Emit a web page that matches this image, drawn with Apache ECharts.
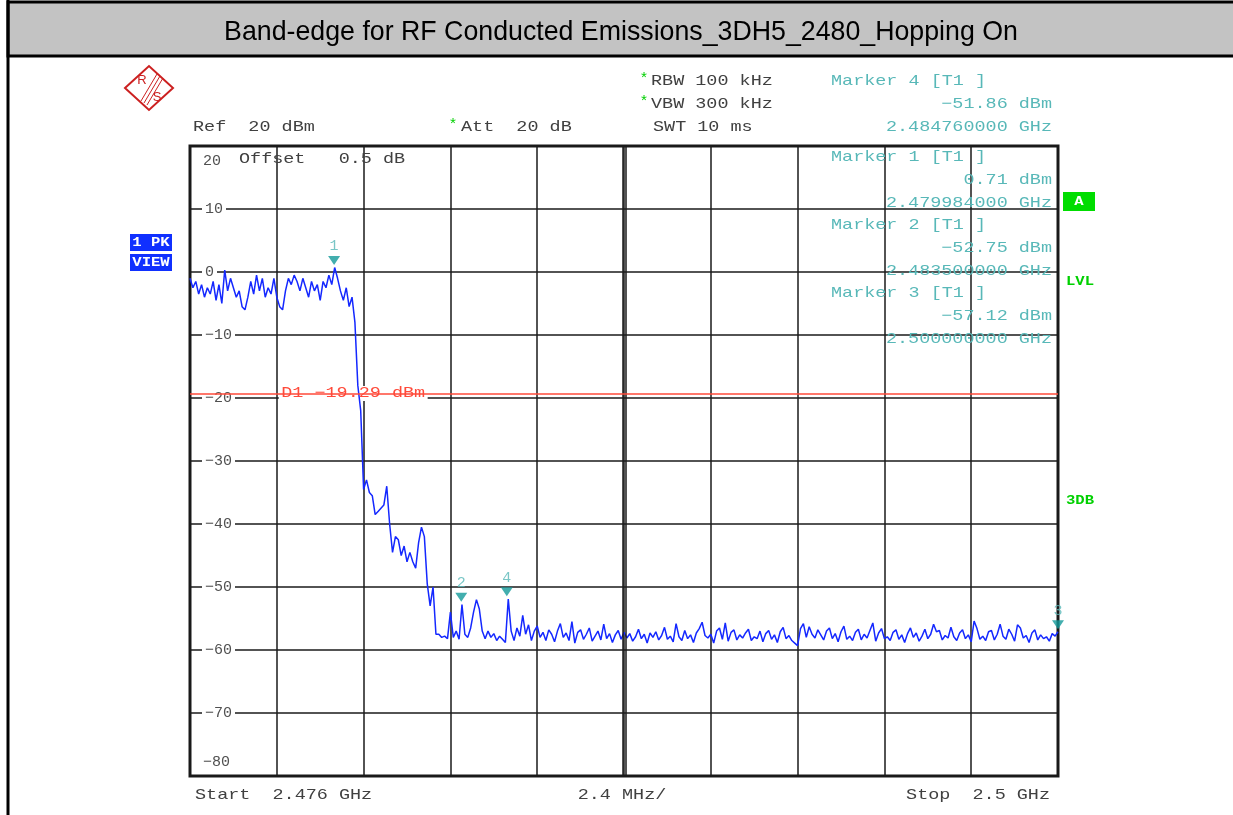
<!DOCTYPE html>
<html>
<head>
<meta charset="utf-8">
<title>Band-edge 3DH5 2480 Hopping On</title>
<script src="https://cdn.jsdelivr.net/npm/echarts@6/dist/echarts.min.js"></script>
<style>
  html, body { margin: 0; padding: 0; background: #fff; }
  #chart { width: 1233px; height: 815px; }
</style>
</head>
<body>
<div id="chart"></div>
<script>
// sweep settings
const startGHz = 2.476;
const stepMHz = 0.08;
const spanMHz = 24;
const divMHz = 2.4;
const centerMHz = 12;
const levelMin = -80;
const levelMax = 20;
const levelStep = 10;
const displayLineDbm = -19.29;

// trace, one level every 0.08 MHz from 2.476 GHz to 2.5 GHz
const traceDbm = [
  -1, -2.5, -1.5, -3.5, -2, -4, -2.5, -3.5, -1.5, -4.5,
  -2, -5, 0.3, -3, -1, -2.5, -4, -3, -5.5, -6,
  -4, -1.5, -3.5, -0.5, -3, -1, -4, -2.5, -3.5, -1,
  -4, -5.5, -6, -3, -1, -2, -0.5, -1.5, -3, -1,
  -2.5, -4, -1.5, -3, -2, -4.5, -1.5, -2.5, -0.5, -2,
  0.71, -1, -3, -4.5, -2.5, -5.5, -4, -8, -18, -22,
  -34.5, -33, -35, -35.5, -38.5, -38, -37.5, -37, -34, -40,
  -44.5, -42, -42.5, -45, -43.5, -46, -44.5, -46, -47, -43,
  -40.5, -42, -49.5, -53, -50, -57.5, -57.5, -58, -57.8, -58.2,
  -54, -58, -57, -58.3, -52.8, -57.5, -58, -56.5, -54, -52,
  -53.5, -57, -58.2, -57, -58, -57.4, -58.5, -57.8, -58.3, -58.8,
  -51.9, -57, -58.5, -56.5, -57.8, -54.5, -57.5, -56, -58.5, -57,
  -56.2, -58, -57.2, -58.5, -56.8, -57.5, -58.7, -57, -55.8, -58,
  -57.3, -58.5, -55.5, -58.9, -57.2, -56.8, -58.3, -57.5, -56.5, -58.6,
  -57.8, -57, -58.4, -55.9, -58.2, -57.4, -58.8, -57.6, -56.9, -58.3,
  -57.2, -58.1, -57.4, -58.6, -57.9, -56.7, -58.2, -57.5, -58.9, -57.3,
  -58, -57.1, -58.4, -57.7, -56.4, -58.3, -57.8, -58.7, -55.8, -57.9,
  -58.5, -56.9, -58.2, -57.6, -58.8, -57.3, -56.6, -55.6, -57.7, -58.1,
  -57.5, -58.9, -57, -56.5, -58.3, -55.7, -58.6, -57.2, -56.8, -58.4,
  -57.6, -58.1, -57.3, -56.7, -58.5, -57.9, -58.2, -57, -58.7, -57.4,
  -56.9, -58.3, -57.6, -58.8, -57.1, -56.4, -58.2, -57.7, -58.5, -58.9,
  -59.3, -56.6, -55.8, -58, -56.3, -57.5, -58.1, -56.8, -57.6, -58.4,
  -57, -56.5, -58.2, -57.4, -58.7, -57.1, -56.2, -58.3, -57.8, -58.5,
  -57.2, -56.7, -58.4, -57.5, -58.1, -56.9, -55.7, -58.6, -57.3, -56.6,
  -58.2, -57.9, -58.5, -57.2, -56.8, -58.3, -57.6, -58.8, -57.4, -56.5,
  -58, -57.3, -58.6, -57.8, -56.7, -58.2, -57.5, -55.9, -57.1, -56.9,
  -58.4, -57.7, -58.1, -56.4, -57.9, -58.5, -57.3, -56.8, -58.2, -57.6,
  -58.7, -55.4, -56.6, -58.3, -57.8, -58.5, -57.1, -56.9, -58.4, -57.5,
  -55.9, -57.8, -58.3, -56.7, -57.5, -58.6, -56, -56.5, -58.1, -57.7,
  -58.8, -57.3, -56.8, -58.4, -57.6, -58.2, -57.9, -58.6, -57.4, -57.8,
  -57.1
];

// markers
const markerNames = ['1', '2', '3', '4'];
const markerGHz = [2.479984, 2.4835, 2.5, 2.48476];
const markerDbm = [0.71, -52.75, -57.12, -51.86];

const chart = echarts.init(document.getElementById('chart'));

const mono = '"Liberation Mono", "DejaVu Sans Mono", monospace';
const grey = '#404040';
const teal = '#58b8b8';
const green = '#00d000';

const toOffset = (ghz) => +((ghz - startGHz) * 1000).toFixed(4);
const minus = (s) => String(s).replace('-', '\u2212');

const traceData = traceDbm.map((v, i) => [+(i * stepMHz).toFixed(2), v]);
const markerData = markerGHz.map((f, i) => ({
  name: markerNames[i],
  value: [toOffset(f), markerDbm[i]]
}));

function monoText(text, x, y, color, align, opts) {
  const o = opts || {};
  return {
    type: 'text',
    x: x,
    y: y,
    scaleX: o.scaleX || 1.23,
    z: o.z || 1,
    style: {
      text: text,
      fill: color,
      font: `${o.weight || 'normal'} ${o.size || 15}px ${mono}`,
      textAlign: align || 'left',
      verticalAlign: 'middle'
    }
  };
}

const markerBlocks = [];
[[1, 0], [2, 1], [3, 2]].forEach(([n, idx], k) => {
  const y0 = 157 + k * 68;
  markerBlocks.push(monoText(`Marker ${n} [T1 ]`, 831, y0, teal));
  markerBlocks.push(monoText(minus(markerDbm[idx].toFixed(2)) + ' dBm', 1052, y0 + 23, teal, 'right'));
  markerBlocks.push(monoText(markerGHz[idx].toFixed(9) + ' GHz', 1052, y0 + 46, teal, 'right'));
});

const graphics = [
  // title bar and page frame
  { type: 'rect', shape: { x: 8, y: 2, width: 1240, height: 54 }, style: { fill: '#c3c3c3', stroke: '#000', lineWidth: 3 } },
  { type: 'line', shape: { x1: 8, y1: 0, x2: 8, y2: 815 }, style: { stroke: '#000', lineWidth: 3 } },
  {
    type: 'text', x: 621, y: 32, scaleX: 0.955,
    style: {
      text: 'Band-edge for RF Conducted Emissions_3DH5_2480_Hopping On',
      fill: '#000', font: '28px "Liberation Sans", Arial, sans-serif',
      textAlign: 'center', verticalAlign: 'middle'
    }
  },
  // R&S logo
  { type: 'polygon', shape: { points: [[125, 88], [149, 66], [173, 88], [149, 110]] }, style: { fill: 'none', stroke: '#cc2020', lineWidth: 2 } },
  { type: 'line', shape: { x1: 157, y1: 74, x2: 141, y2: 101 }, style: { stroke: '#cc2020', lineWidth: 1 } },
  { type: 'line', shape: { x1: 160, y1: 76, x2: 144, y2: 103 }, style: { stroke: '#cc2020', lineWidth: 1 } },
  { type: 'line', shape: { x1: 163, y1: 78, x2: 147, y2: 105 }, style: { stroke: '#cc2020', lineWidth: 1 } },
  { type: 'text', x: 142, y: 80, style: { text: 'R', fill: '#cc2020', font: '13px "Liberation Sans", sans-serif', textAlign: 'center', verticalAlign: 'middle' } },
  { type: 'text', x: 157, y: 97, style: { text: 'S', fill: '#cc2020', font: '13px "Liberation Sans", sans-serif', textAlign: 'center', verticalAlign: 'middle' } },
  // settings
  monoText('*', 644, 79, green, 'center', { scaleX: 1 }),
  monoText('RBW 100 kHz', 651, 81, grey),
  monoText('*', 644, 102, green, 'center', { scaleX: 1 }),
  monoText('VBW 300 kHz', 651, 104, grey),
  monoText('SWT 10 ms', 653, 127, grey),
  monoText('Ref  20 dBm', 193, 127, grey),
  monoText('*', 453, 125, green, 'center', { scaleX: 1 }),
  monoText('Att  20 dB', 461, 127, grey),
  monoText('Marker 4 [T1 ]', 831, 81, teal),
  monoText(minus(markerDbm[3].toFixed(2)) + ' dBm', 1052, 104, teal, 'right'),
  monoText(markerGHz[3].toFixed(9) + ' GHz', 1052, 127, teal, 'right'),
  monoText(String(levelMax), 203, 161, '#505050', 'left', { scaleX: 1 }),
  monoText('Offset   0.5 dB', 239, 159, grey),
  monoText(minus(levelMin), 203, 762, '#505050', 'left', { scaleX: 1 }),
  ...markerBlocks,
  // side indicators
  { type: 'rect', shape: { x: 130, y: 234, width: 42, height: 17 }, style: { fill: '#1030ff' } },
  monoText('1 PK', 151, 243, '#fff', 'center', { weight: 'bold', size: 12, scaleX: 1.3 }),
  { type: 'rect', shape: { x: 130, y: 254, width: 42, height: 17 }, style: { fill: '#1030ff' } },
  monoText('VIEW', 151, 263, '#fff', 'center', { weight: 'bold', size: 12, scaleX: 1.3 }),
  { type: 'rect', shape: { x: 1063, y: 192, width: 32, height: 19 }, style: { fill: '#00dd00' } },
  monoText('A', 1079, 202, '#fff', 'center', { weight: 'bold', size: 13, scaleX: 1.2 }),
  monoText('LVL', 1066, 282, green, 'left', { weight: 'bold', size: 12, scaleX: 1.3 }),
  monoText('3DB', 1066, 501, green, 'left', { weight: 'bold', size: 12, scaleX: 1.3 }),
  // frequency axis texts
  monoText('Start  2.476 GHz', 195, 795, grey),
  monoText(divMHz + ' MHz/', 622, 795, grey, 'center'),
  monoText('Stop  2.5 GHz', 1050, 795, grey, 'right')
];

chart.setOption({
  animation: false,
  backgroundColor: '#fff',
  grid: {
    left: 190,
    right: 175,
    top: 146,
    bottom: 39,
    show: true,
    borderColor: '#1a1a1a',
    borderWidth: 3
  },
  xAxis: {
    type: 'value',
    min: 0,
    max: spanMHz,
    interval: divMHz,
    axisLine: { show: false },
    axisTick: { show: false },
    axisLabel: { show: false },
    splitLine: { show: true, lineStyle: { color: '#1a1a1a', width: 1.5 } }
  },
  yAxis: {
    type: 'value',
    min: levelMin,
    max: levelMax,
    interval: levelStep,
    axisLine: { show: false },
    axisTick: { show: false },
    axisLabel: {
      inside: true,
      margin: 12,
      showMinLabel: false,
      showMaxLabel: false,
      color: '#505050',
      fontFamily: mono,
      fontSize: 15,
      backgroundColor: '#fff',
      padding: [0, 3],
      formatter: (v) => minus(v)
    },
    splitLine: { show: true, lineStyle: { color: '#1a1a1a', width: 1.5 } }
  },
  series: [
    {
      type: 'line',
      z: 1,
      data: [],
      silent: true,
      markLine: {
        symbol: 'none',
        silent: true,
        label: { show: false },
        data: [
          // centre division drawn as a double line
          { xAxis: centerMHz - 0.045, lineStyle: { color: '#1a1a1a', width: 1.5, type: 'solid' } },
          { xAxis: centerMHz + 0.045, lineStyle: { color: '#1a1a1a', width: 1.5, type: 'solid' } },
          { yAxis: displayLineDbm, lineStyle: { color: '#ff4a3a', width: 1.5, type: 'solid' } }
        ]
      }
    },
    {
      type: 'line',
      z: 3,
      data: traceData,
      showSymbol: false,
      lineStyle: { color: '#1428ff', width: 1.5 }
    },
    {
      type: 'scatter',
      z: 4,
      data: markerData,
      symbol: 'triangle',
      symbolRotate: 180,
      symbolSize: [12, 9],
      symbolOffset: [0, -7],
      itemStyle: { color: '#139a9a' },
      label: {
        show: true,
        position: 'top',
        distance: 2,
        formatter: '{b}',
        color: teal,
        fontFamily: mono,
        fontSize: 15
      }
    }
  ],
  graphic: graphics
});

// display line label sits on the line just right of the first division
const d1Pos = chart.convertToPixel({ gridIndex: 0 }, [divMHz, displayLineDbm]);
chart.setOption({
  graphic: graphics.concat([
    {
      type: 'text',
      x: d1Pos[0] + 2,
      y: d1Pos[1],
      scaleX: 1.23,
      z: 1,
      style: {
        text: 'D1 ' + minus(displayLineDbm) + ' dBm',
        fill: '#ff4a3a',
        font: `15px ${mono}`,
        textAlign: 'left',
        verticalAlign: 'middle',
        backgroundColor: '#fff',
        padding: [0, 2]
      }
    }
  ])
});

window.addEventListener('resize', () => {
  chart.resize();
});
</script>
</body>
</html>
